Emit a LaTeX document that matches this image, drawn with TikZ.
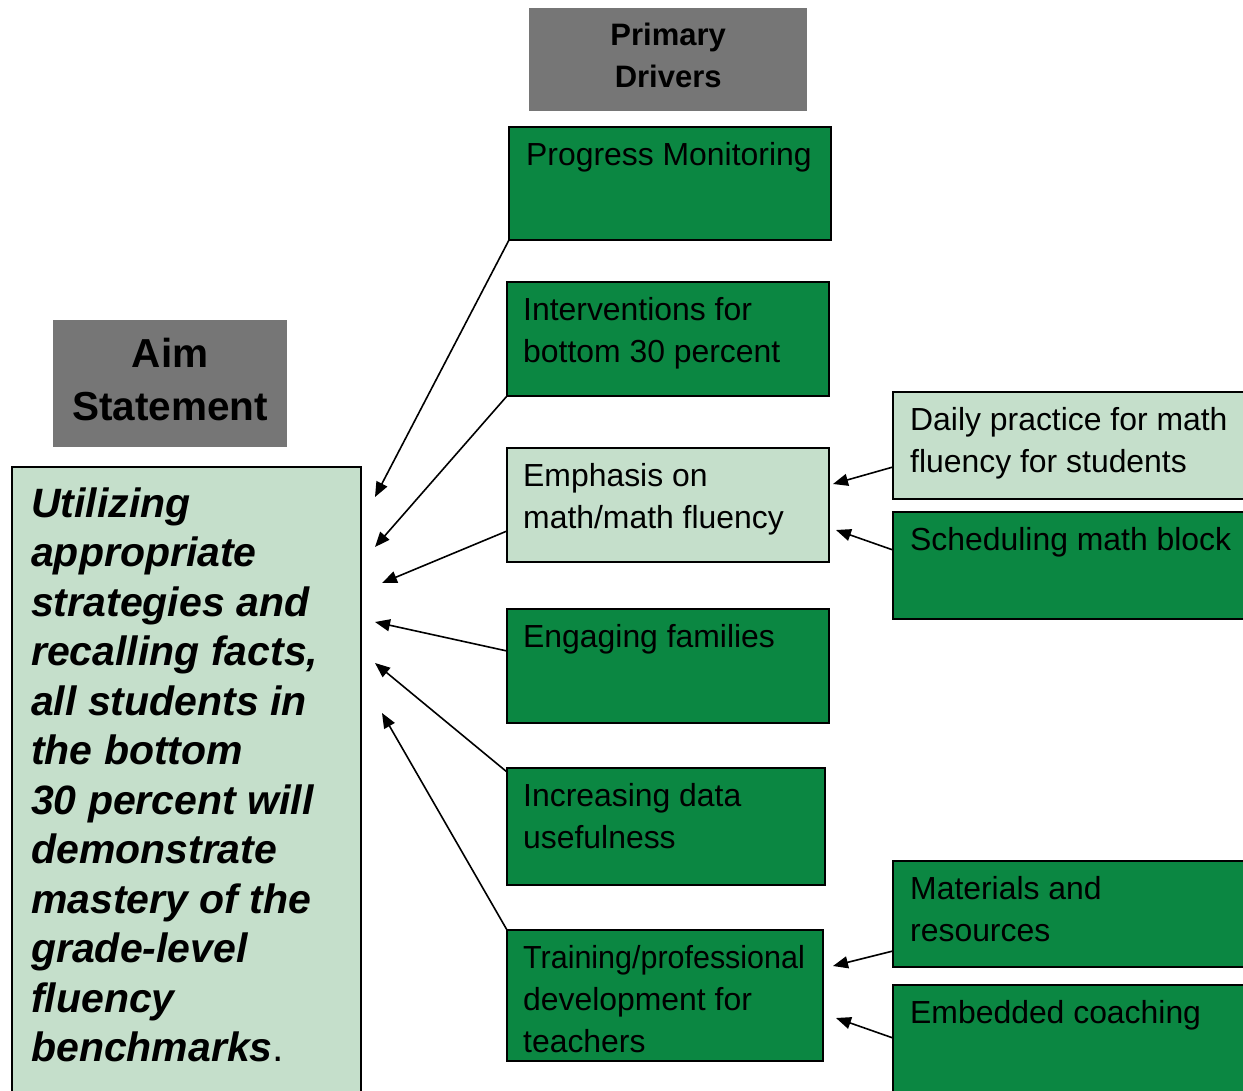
\documentclass[tikz,border=0pt]{standalone}
\usepackage{fontspec}
\usepackage{graphicx}
\setmainfont{Liberation Sans}
\usetikzlibrary{arrows.meta}
\definecolor{drvgreen}{HTML}{0B8742}
\definecolor{palegreen}{HTML}{C5DFCB}
\definecolor{hdrgray}{HTML}{767676}
\newcommand\drvfont{\fontsize{31.9}{42}\selectfont}
\newcommand\hdrfont{\fontsize{31}{42}\selectfont\bfseries}
\newcommand\aimhdrfont{\fontsize{40.5}{53}\selectfont\bfseries}
\newcommand\aimfont{\fontsize{41}{49.5}\selectfont\bfseries\itshape}
\tikzset{
  hdr/.style={rectangle, fill=hdrgray, anchor=north west, inner sep=0pt, align=center},
  drvbox/.style={rectangle, draw=black, line width=1.8pt, anchor=north west, inner sep=0pt, outer sep=0pt},
  darkbox/.style={drvbox, fill=drvgreen},
  lightbox/.style={drvbox, fill=palegreen},
  drvtext/.style={anchor=north west, inner sep=0pt, align=left, font=\drvfont},
  arr/.style={line width=1.6pt, -{Triangle[length=15pt,width=12pt]}}
}
\begin{document}
\begin{tikzpicture}[x=1pt,y=-1pt]
\useasboundingbox (0,0) rectangle (1243,1091);
\clip (0,0) rectangle (1243,1091);

% headers
\node[hdr, minimum width=278pt, minimum height=103pt] (pd) at (529,8) {};
\node[font=\hdrfont, align=center, inner sep=0pt] at ([yshift=4pt]pd.center) {Primary\\Drivers};
\node[hdr, minimum width=234pt, minimum height=127pt] (ah) at (53,320) {};
\node[font=\aimhdrfont, align=center, inner sep=0pt] at ([yshift=4pt]ah.center) {Aim\\Statement};

% aim statement
\node[lightbox, line width=2.2pt, minimum width=349pt, minimum height=660pt] (aim) at (12,467) {};
\node[anchor=north west, inner sep=0pt, align=left, font=\aimfont] (aimtxt)
  at ([xshift=19pt,yshift=-15.5pt]aim.north west)
  {\strut Utilizing\\appropriate\\strategies and\\recalling facts,\\all students in\\the bottom\\30 percent will\\demonstrate\\mastery of the\\grade-level\\fluency\\benchmarks\textup{\mdseries .}};

% primary drivers
\node[darkbox, minimum width=322pt, minimum height=113pt] (pm) at (509,127) {};
\node[darkbox, minimum width=322pt, minimum height=114pt] (iv) at (507,282) {};
\node[lightbox, minimum width=322pt, minimum height=114pt] (em) at (507,448) {};
\node[darkbox, minimum width=322pt, minimum height=114pt] (ef) at (507,609) {};
\node[darkbox, minimum width=318pt, minimum height=117pt] (id) at (507,768) {};
\node[darkbox, minimum width=316pt, minimum height=131pt] (tp) at (507,930) {};

% secondary drivers
\node[lightbox, minimum width=370pt, minimum height=107pt] (dp) at (893,392) {};
\node[darkbox, minimum width=370pt, minimum height=107pt] (sm) at (893,512) {};
\node[darkbox, minimum width=370pt, minimum height=106pt] (mr) at (893,861) {};
\node[darkbox, minimum width=370pt, minimum height=130pt] (ec) at (893,985) {};

% box texts
\node[drvtext] at ([xshift=17pt,yshift=-8.6pt]pm.north west) {\strut Progress Monitoring};
\node[drvtext] at ([xshift=16pt,yshift=-8.6pt]iv.north west) {\strut Interventions for\\bottom 30 percent};
\node[drvtext] at ([xshift=16pt,yshift=-8.6pt]em.north west) {\strut Emphasis on\\math/math fluency};
\node[drvtext] at ([xshift=16pt,yshift=-8.6pt]ef.north west) {\strut Engaging families};
\node[drvtext] at ([xshift=16pt,yshift=-8.6pt]id.north west) {\strut Increasing data\\usefulness};
\node[drvtext] at ([xshift=16pt,yshift=-8.6pt]tp.north west) {\strut \scalebox{0.955}[1]{Training/professional}\\development for\\teachers};
\node[drvtext] at ([xshift=17pt,yshift=-8.6pt]dp.north west) {\strut Daily practice for math\\fluency for students};
\node[drvtext] at ([xshift=17pt,yshift=-8.6pt]sm.north west) {\strut Scheduling math block};
\node[drvtext] at ([xshift=17pt,yshift=-8.6pt]mr.north west) {\strut Materials and\\resources};
\node[drvtext] at ([xshift=17pt,yshift=-8.6pt]ec.north west) {\strut Embedded coaching};

% arrow tips
\coordinate (t1) at (375,497);
\coordinate (t2) at (375,547);
\coordinate (t3) at (382,583);
\coordinate (t4) at (375,622);
\coordinate (t5) at (375,663);
\coordinate (t6) at (382,713);
\coordinate (t7) at (833,484);
\coordinate (t8) at (836,530);
\coordinate (t9) at (833,966);
\coordinate (t10) at (836,1018);

% connectors
\draw[arr] (pm.south west) -- (t1);
\draw[arr] (iv.south west) -- (t2);
\draw[arr] ([yshift=31pt]em.south west) -- (t3);
\draw[arr] ([yshift=-42pt]ef.north west) -- (t4);
\draw[arr] ([yshift=-4pt]id.north west) -- (t5);
\draw[arr] (tp.north west) -- (t6);
\draw[arr] ([yshift=32pt]dp.south west) -- (t7);
\draw[arr] ([yshift=-38pt]sm.north west) -- (t8);
\draw[arr] ([yshift=16pt]mr.south west) -- (t9);
\draw[arr] ([yshift=-53pt]ec.north west) -- (t10);
\end{tikzpicture}
\end{document}
